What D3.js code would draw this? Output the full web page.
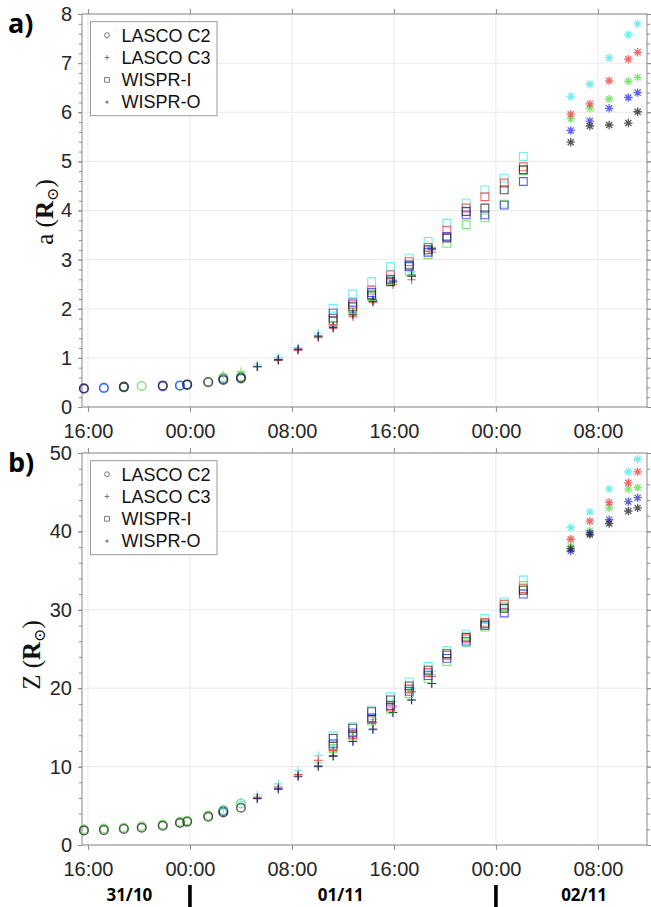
<!DOCTYPE html>
<html>
<head>
<meta charset="utf-8">
<script src="https://cdn.jsdelivr.net/npm/d3@7"></script>
<style>
  body { margin: 0; background: #fff; }
  svg { display: block; }
</style>
</head>
<body>
<div id="chart"></div>
<script>
// Five fits, columns in every row: black, blue, red, green, cyan
const fitColors = ['#222222', '#2a2aee', '#ee3333', '#55dd44', '#44e8e8'];
const drawOrder = [4, 3, 2, 1, 0];

// LASCO C2 (circles)
const c2Times = ['2021-10-31 15:41', '2021-10-31 17:15', '2021-10-31 18:49', '2021-10-31 20:13', '2021-10-31 21:52',
  '2021-10-31 23:13', '2021-10-31 23:47', '2021-11-01 01:26', '2021-11-01 02:37', '2021-11-01 04:00'];
const c2A = [
  [0.38, 0.37, null, null, null],
  [null, 0.39, null, null, 0.38],
  [0.41, 0.40, null, 0.42, null],
  [null, null, null, 0.43, null],
  [0.44, 0.42, null, null, null],
  [null, 0.44, null, null, 0.43],
  [0.46, 0.45, null, 0.46, null],
  [0.51, null, null, 0.50, null],
  [0.55, 0.57, null, 0.60, null],
  [0.58, 0.60, null, 0.62, null]
];
const c2Z = [
  [1.85, null, null, 2.0, null],
  [1.9, null, null, 2.1, null],
  [2.05, null, null, 2.2, null],
  [2.2, null, null, 2.4, null],
  [2.45, null, null, 2.6, null],
  [2.8, null, null, 2.95, null],
  [2.97, null, null, 3.1, null],
  [3.6, null, null, 3.75, null],
  [4.15, 4.3, null, 4.45, null],
  [4.75, null, null, 5.3, null]
];

// LASCO C3 (crosses)
const c3Times = ['2021-11-01 02:37', '2021-11-01 04:00', '2021-11-01 05:17', '2021-11-01 06:56', '2021-11-01 08:29',
  '2021-11-01 10:04', '2021-11-01 11:14', '2021-11-01 12:47', '2021-11-01 14:21', '2021-11-01 15:55',
  '2021-11-01 17:23', '2021-11-01 18:58'];
const c3A = [
  [null, null, null, 0.65, null],
  [null, null, null, 0.72, null],
  [0.82, 0.82, null, 0.83, 0.87],
  [0.96, 0.97, 0.95, 0.96, 1.01],
  [1.17, 1.18, 1.15, 1.18, 1.21],
  [1.43, 1.45, 1.41, 1.44, 1.50],
  [1.62, 1.65, 1.60, 1.62, 1.68],
  [1.88, 1.92, 1.84, 1.87, 1.95],
  [2.15, 2.18, 2.13, 2.17, 2.22],
  [2.55, 2.57, 2.49, 2.53, 2.60],
  [2.66, 2.68, 2.59, 2.70, 2.75],
  [3.23, 3.20, 3.15, 3.20, 3.25]
];
const c3Z = [
  [null, null, null, null, 4.6],
  [null, null, null, null, 5.5],
  [5.9, 5.95, 6.1, 6.1, 6.4],
  [7.1, 7.2, 7.4, 7.4, 7.8],
  [8.7, 8.8, 9.0, 9.0, 9.5],
  [10.0, 10.1, 10.8, 10.5, 11.4],
  [11.3, 11.4, 12.0, 12.2, 12.6],
  [13.2, 13.2, 13.9, 14.0, 14.3],
  [14.8, 14.7, 15.6, 15.7, 16.0],
  [16.9, 16.9, 17.6, 17.8, 18.2],
  [18.5, 18.5, 19.6, 19.5, 20.0],
  [20.6, 20.6, 21.5, 21.7, 22.2]
];

// WISPR-I (squares)
const wiTimes = ['2021-11-01 11:14', '2021-11-01 12:46', '2021-11-01 14:15', '2021-11-01 15:44', '2021-11-01 17:12',
  '2021-11-01 18:41', '2021-11-01 20:09', '2021-11-01 21:40', '2021-11-01 23:08', '2021-11-02 00:39', '2021-11-02 02:09'];
const wiA = [
  [1.81, 1.91, 1.76, 1.74, 2.01],
  [2.04, 2.12, 2.08, 1.98, 2.30],
  [2.28, 2.33, 2.38, 2.25, 2.55],
  [2.55, 2.60, 2.69, 2.58, 2.86],
  [2.89, 2.86, 2.96, 2.75, 3.03],
  [3.20, 3.15, 3.25, 3.10, 3.37],
  [3.44, 3.47, 3.60, 3.33, 3.74],
  [3.98, 3.91, 4.05, 3.71, 4.15],
  [4.05, 3.91, 4.28, 3.85, 4.42],
  [4.42, 4.11, 4.56, 4.13, 4.66],
  [4.83, 4.59, 4.89, 4.81, 5.10]
];
const wiZ = [
  [13.6, 12.9, 12.6, 12.3, 13.9],
  [14.9, 14.3, 14.1, 13.9, 15.1],
  [17.0, 16.2, 16.0, 15.8, 17.2],
  [18.5, 17.8, 17.6, 17.3, 18.9],
  [20.3, 19.6, 19.9, 19.3, 20.8],
  [22.3, 21.6, 22.0, 21.2, 22.8],
  [24.4, 23.8, 24.2, 23.4, 24.8],
  [26.5, 26.0, 26.3, 25.8, 26.9],
  [28.2, 28.0, 28.4, 27.8, 28.9],
  [30.2, 29.6, 30.7, 30.4, 31.0],
  [32.5, 32.0, 32.7, 33.1, 33.8]
];

// WISPR-O (asterisks)
const woTimes = ['2021-11-02 05:52', '2021-11-02 07:22', '2021-11-02 08:53', '2021-11-02 10:23', '2021-11-02 11:07'];
const woA = [
  [5.39, 5.63, 5.96, 5.87, 6.32],
  [5.72, 5.82, 6.17, 6.08, 6.57],
  [5.74, 6.08, 6.64, 6.27, 7.11],
  [5.78, 6.30, 7.08, 6.63, 7.58],
  [6.01, 6.40, 7.22, 6.71, 7.80]
];
const woZ = [
  [37.8, 37.5, 39.0, 38.1, 40.5],
  [39.6, 39.8, 41.3, 40.1, 42.5],
  [41.0, 41.5, 43.7, 43.0, 45.4],
  [42.6, 43.8, 46.2, 45.4, 47.6],
  [43.0, 44.3, 47.6, 45.6, 49.2]
];

const legendNames = ['LASCO C2', 'LASCO C3', 'WISPR-I', 'WISPR-O'];
const legendShapes = ['circle', 'plus', 'square', 'asterisk'];
const timeDomain = ['2021-10-31 15:32', '2021-11-02 11:51'];
const dayLabels = [['31/10', '2021-10-31 19:15'], ['01/11', '2021-11-01 11:50'], ['02/11', '2021-11-02 06:55']];
const dayBreaks = ['2021-11-01 00:00', '2021-11-02 00:00'];

const parseTime = d3.utcParse('%Y-%m-%d %H:%M');

const instruments = [
  { shape: 'circle', times: c2Times, a: c2A, z: c2Z },
  { shape: 'plus', times: c3Times, a: c3A, z: c3Z },
  { shape: 'square', times: wiTimes, a: wiA, z: wiZ },
  { shape: 'asterisk', times: woTimes, a: woA, z: woZ }
];

function buildPoints(key) {
  const pts = [];
  instruments.forEach(inst => {
    inst.times.forEach((t, i) => {
      const row = inst[key][i];
      drawOrder.forEach(c => {
        if (row[c] != null) pts.push({ time: parseTime(t), value: row[c], color: fitColors[c], shape: inst.shape });
      });
    });
  });
  return pts;
}

function markerPath(shape, s) {
  if (shape === 'circle') return `M${-s},0A${s},${s} 0 1,0 ${s},0A${s},${s} 0 1,0 ${-s},0`;
  if (shape === 'plus') return `M${-s},0H${s}M0,${-s}V${s}`;
  if (shape === 'square') return `M${-s},${-s}H${s}V${s}H${-s}Z`;
  const d = s * 0.72;
  return `M${-s},0H${s}M0,${-s}V${s}M${-d},${-d}L${d},${d}M${-d},${d}L${d},${-d}`;
}

const markerSize = { circle: 4.3, plus: 4.3, square: 3.9, asterisk: 4.2 };

const svg = d3.select('#chart').append('svg')
  .attr('width', 651)
  .attr('height', 907);

const xScale = d3.scaleUtc()
  .domain(timeDomain.map(parseTime))
  .range([82, 647]);

class Panel {

  constructor(_config, _data) {
    this.config = _config;
    this.data = _data;
    this.initVis();
  }

  initVis() {
    let vis = this;
    const cfg = vis.config;

    vis.yScale = d3.scaleLinear()
      .domain(cfg.yDomain)
      .range([cfg.bottom, cfg.top]);

    vis.g = svg.append('g');
    const x0 = xScale.range()[0], x1 = xScale.range()[1];
    const xTicks = d3.utcHour.every(8).range(...xScale.domain());
    const yTicks = d3.range(cfg.yDomain[0], cfg.yDomain[1] + 1e-9, cfg.yStep);
    const yMinor = d3.range(cfg.yDomain[0], cfg.yDomain[1] + 1e-9, cfg.yMinor);

    // Grid
    vis.g.append('g').selectAll('line.gx')
      .data(xTicks)
      .join('line')
      .attr('x1', d => xScale(d)).attr('x2', d => xScale(d))
      .attr('y1', cfg.top).attr('y2', cfg.bottom)
      .attr('stroke', '#e9e9e9');
    vis.g.append('g').selectAll('line.gy')
      .data(yTicks)
      .join('line')
      .attr('x1', x0).attr('x2', x1)
      .attr('y1', d => vis.yScale(d)).attr('y2', d => vis.yScale(d))
      .attr('stroke', '#e9e9e9');

    // Axes, ticks outward on all four sides
    const bottomAxis = d3.axisBottom(xScale).tickValues(xTicks)
      .tickFormat(d3.utcFormat('%H:%M')).tickSize(5).tickSizeOuter(0).tickPadding(12);
    const topAxis = d3.axisTop(xScale).tickValues(xTicks).tickFormat('').tickSize(5).tickSizeOuter(0);
    const leftAxis = d3.axisLeft(vis.yScale).tickValues(yTicks).tickSize(4).tickSizeOuter(0).tickPadding(6);
    const leftMinor = d3.axisLeft(vis.yScale).tickValues(yMinor).tickFormat('').tickSize(3).tickSizeOuter(0);
    const rightMinor = d3.axisRight(vis.yScale).tickValues(yMinor).tickFormat('').tickSize(3).tickSizeOuter(0);
    const rightAxis = d3.axisRight(vis.yScale).tickValues(yTicks).tickFormat('').tickSize(4).tickSizeOuter(0);

    const axes = [
      [bottomAxis, `translate(0,${cfg.bottom})`],
      [topAxis, `translate(0,${cfg.top})`],
      [leftMinor, `translate(${x0},0)`],
      [leftAxis, `translate(${x0},0)`],
      [rightMinor, `translate(${x1},0)`],
      [rightAxis, `translate(${x1},0)`]
    ];
    axes.forEach(([ax, tr]) => {
      const a = vis.g.append('g').attr('transform', tr).call(ax);
      a.select('.domain').remove();
      a.selectAll('line').attr('stroke', '#8a8a8a');
      a.selectAll('text')
        .attr('fill', '#262626')
        .style('font-family', '"Liberation Sans", Arial, sans-serif')
        .style('font-size', '20px');
    });

    vis.g.append('rect')
      .attr('x', x0).attr('y', cfg.top)
      .attr('width', x1 - x0).attr('height', cfg.bottom - cfg.top)
      .attr('fill', 'none')
      .attr('stroke', '#8a8a8a');

    // Panel label
    vis.g.append('text')
      .attr('x', 8).attr('y', cfg.top + 19)
      .style('font-family', '"Open Sans", sans-serif')
      .style('font-weight', 700)
      .style('font-size', '27px')
      .attr('fill', '#000')
      .text(cfg.panelLabel);

    // Y title
    const title = vis.g.append('text')
      .attr('transform', `translate(${cfg.titleX},${cfg.titleY}) rotate(-90)`)
      .attr('text-anchor', 'middle')
      .style('font-family', '"Liberation Serif", "DejaVu Serif", serif')
      .style('font-size', '25px')
      .attr('fill', '#111');
    title.append('tspan').text(cfg.yLabel + ' (');
    title.append('tspan').style('font-weight', 700).text('R');
    title.append('tspan').attr('dy', 5).style('font-size', '16px').text('\u2299');
    title.append('tspan').attr('dy', -5).text(')');

    vis.renderVis();
  }

  renderVis() {
    let vis = this;
    const cfg = vis.config;

    vis.g.append('g')
      .selectAll('path.mark')
      .data(vis.data)
      .join('path')
      .attr('class', 'mark')
      .attr('transform', d => `translate(${xScale(d.time)},${vis.yScale(d.value)})`)
      .attr('d', d => markerPath(d.shape, markerSize[d.shape]))
      .attr('fill', 'none')
      .attr('stroke', d => d.color)
      .attr('stroke-opacity', 0.75)
      .attr('stroke-width', d => d.shape === 'circle' ? 1.4 : (d.shape === 'asterisk' ? 1.3 : 1.1));

    // Legend
    const lg = vis.g.append('g').attr('transform', `translate(90.5,${cfg.top + 7.7})`);
    lg.append('rect')
      .attr('width', 126.5).attr('height', 94)
      .attr('fill', '#fff')
      .attr('stroke', '#9a9a9a');
    const rows = lg.selectAll('g.row')
      .data(legendNames)
      .join('g')
      .attr('transform', (d, i) => `translate(0,${13.5 + i * 22.3})`);
    rows.append('path')
      .attr('transform', 'translate(16.5,0)')
      .attr('d', (d, i) => markerPath(legendShapes[i], legendShapes[i] === 'asterisk' ? 1.6 : 2.4))
      .attr('fill', 'none')
      .attr('stroke', '#7a7a7a')
      .attr('stroke-width', 1);
    rows.append('text')
      .attr('x', 31).attr('dy', '0.35em')
      .style('font-family', '"Liberation Sans", Arial, sans-serif')
      .style('font-size', '18px')
      .attr('fill', '#111')
      .text(d => d);
  }
}

new Panel({ top: 14, bottom: 407, yDomain: [0, 8], yStep: 1, yMinor: 0.2,
  panelLabel: 'a)', yLabel: 'a', titleX: 53, titleY: 212 }, buildPoints('a'));
new Panel({ top: 453, bottom: 845, yDomain: [0, 50], yStep: 10, yMinor: 2,
  panelLabel: 'b)', yLabel: 'Z', titleX: 40, titleY: 655 }, buildPoints('z'));

// Day labels below the lower panel
svg.append('g').selectAll('text')
  .data(dayLabels)
  .join('text')
  .attr('x', d => xScale(parseTime(d[1])))
  .attr('y', 901)
  .attr('text-anchor', 'middle')
  .style('font-family', '"Open Sans", sans-serif')
  .style('font-weight', 700)
  .style('font-size', '17px')
  .attr('fill', '#000')
  .text(d => d[0]);
svg.append('g').selectAll('rect')
  .data(dayBreaks)
  .join('rect')
  .attr('x', d => xScale(parseTime(d)) - 1.8)
  .attr('y', 885)
  .attr('width', 3.6)
  .attr('height', 22)
  .attr('fill', '#000');
</script>
</body>
</html>
